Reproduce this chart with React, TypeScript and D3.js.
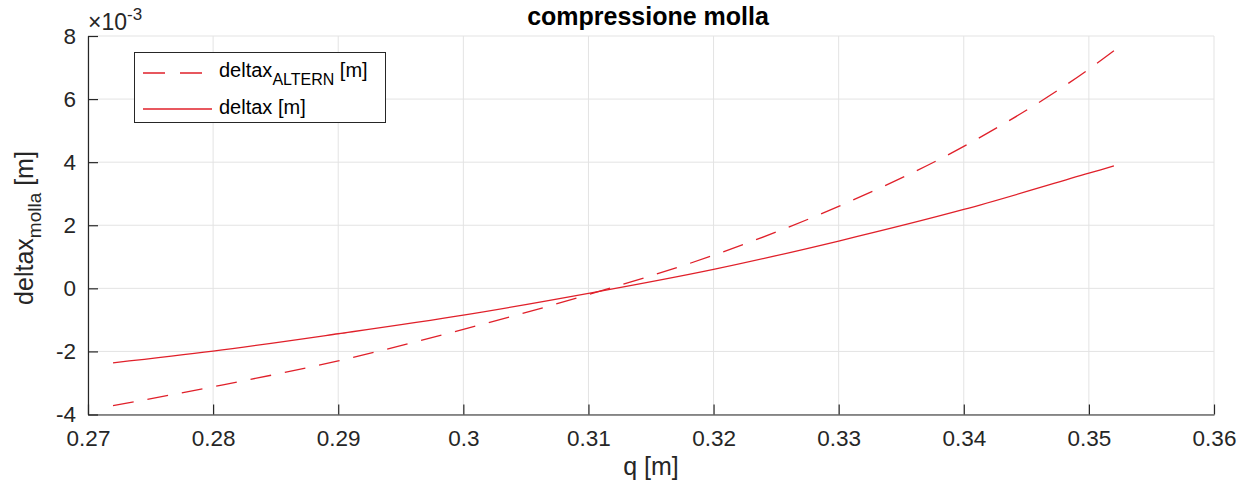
import * as d3 from 'd3';
import React, { ReactElement, useEffect, useRef } from 'react';

const W = 1240;
const H = 487;

// q [m]
const qValues = [0.272, 0.28, 0.29, 0.3, 0.31, 0.32, 0.33, 0.34, 0.35, 0.352];
// deltax [m] (x 1e-3)
const deltax = [-2.36, -1.99, -1.44, -0.85, -0.16, 0.6, 1.5, 2.5, 3.65, 3.88];
// deltax ALTERN [m] (x 1e-3)
const deltaxAltern = [-3.72, -3.12, -2.3, -1.3, -0.2, 1.05, 2.6, 4.5, 6.95, 7.53];

const xTicks = [0.27, 0.28, 0.29, 0.3, 0.31, 0.32, 0.33, 0.34, 0.35, 0.36];
const yTicks = [-4, -2, 0, 2, 4, 6, 8];

const RED = '#e0202a';
const AXIS = '#262626';
const GRID = '#e3e3e3';
const FONT = '"Liberation Sans", Arial, Helvetica, sans-serif';

const App = (): ReactElement => {
  const ref = useRef(null);

  const create = () => {
    const left = 88;
    const right = 1214;
    const top = 36;
    const bottom = 414.5;

    const x = d3.scaleLinear().domain([0.27, 0.36]).range([left, right]);
    const y = d3.scaleLinear().domain([-4, 8]).range([bottom, top]);

    const svg = d3
      .select(ref.current)
      .append('svg')
      .attr('width', W)
      .attr('height', H)
      .style('position', 'absolute')
      .style('left', 0)
      .style('top', 0)
      .style('font-family', FONT);

    svg.append('rect').attr('width', W).attr('height', H).attr('fill', '#fff');

    // grid
    svg
      .append('g')
      .selectAll('line')
      .data(xTicks)
      .enter()
      .append('line')
      .attr('x1', (d) => x(d))
      .attr('x2', (d) => x(d))
      .attr('y1', top)
      .attr('y2', bottom)
      .attr('stroke', GRID)
      .attr('stroke-width', 1);
    svg
      .append('g')
      .selectAll('line')
      .data(yTicks)
      .enter()
      .append('line')
      .attr('x1', left)
      .attr('x2', right)
      .attr('y1', (d) => y(d))
      .attr('y2', (d) => y(d))
      .attr('stroke', GRID)
      .attr('stroke-width', 1);

    // axes (left, bottom) with inward ticks
    const xAxis = d3
      .axisBottom(x)
      .tickValues(xTicks)
      .tickSizeInner(-10)
      .tickSizeOuter(0)
      .tickPadding(16)
      .tickFormat((d) => String(+d));
    const gx = svg.append('g').attr('transform', `translate(0,${bottom})`).call(xAxis);
    const yAxis = d3
      .axisLeft(y)
      .tickValues(yTicks)
      .tickSizeInner(-10)
      .tickSizeOuter(0)
      .tickPadding(12)
      .tickFormat((d) => String(d));
    const gy = svg.append('g').attr('transform', `translate(${left},0)`).call(yAxis);
    [gx, gy].forEach((g) => {
      g.select('.domain').attr('stroke', AXIS).attr('stroke-width', 1.2);
      g.selectAll('.tick line').attr('stroke', AXIS).attr('stroke-width', 1.2);
      g.selectAll('.tick text')
        .attr('fill', AXIS)
        .attr('font-size', 22.5)
        .attr('font-family', FONT);
    });

    // exponent
    const exp = svg
      .append('text')
      .attr('x', 88)
      .attr('y', 30)
      .attr('fill', AXIS)
      .attr('font-size', 23);
    exp.append('tspan').text('×10');
    exp.append('tspan').attr('dy', -10).attr('font-size', 17).text('-3');

    // lines
    const line = d3
      .line<number>()
      .x((_, i) => x(qValues[i]))
      .y((d) => y(d))
      .curve(d3.curveMonotoneX);

    svg
      .append('path')
      .attr('d', line(deltaxAltern))
      .attr('fill', 'none')
      .attr('stroke', RED)
      .attr('stroke-width', 1.3)
      .attr('stroke-dasharray', '21,14');
    svg
      .append('path')
      .attr('d', line(deltax))
      .attr('fill', 'none')
      .attr('stroke', RED)
      .attr('stroke-width', 1.3);

    // title
    svg
      .append('text')
      .attr('x', 648)
      .attr('y', 25)
      .attr('text-anchor', 'middle')
      .attr('font-weight', 'bold')
      .attr('font-size', 25)
      .attr('fill', '#000')
      .text('compressione molla');

    // x label
    svg
      .append('text')
      .attr('x', 651)
      .attr('y', 475)
      .attr('text-anchor', 'middle')
      .attr('font-size', 25)
      .attr('fill', AXIS)
      .text('q [m]');

    // y label
    const yl = svg
      .append('text')
      .attr('transform', 'translate(33,228) rotate(-90)')
      .attr('text-anchor', 'middle')
      .attr('font-size', 25)
      .attr('fill', AXIS);
    yl.append('tspan').text('deltax');
    yl.append('tspan').attr('dy', 8).attr('font-size', 19).text('molla');
    yl.append('tspan').attr('dy', -8).text(' [m]');

    // legend
    const lg = svg.append('g');
    lg.append('rect')
      .attr('x', 134.5)
      .attr('y', 52.5)
      .attr('width', 251)
      .attr('height', 70)
      .attr('fill', '#fff')
      .attr('stroke', AXIS)
      .attr('stroke-width', 1);
    lg.append('line')
      .attr('x1', 143)
      .attr('x2', 212)
      .attr('y1', 73)
      .attr('y2', 73)
      .attr('stroke', RED)
      .attr('stroke-width', 1.3)
      .attr('stroke-dasharray', '22,15');
    lg.append('line')
      .attr('x1', 143)
      .attr('x2', 212)
      .attr('y1', 109)
      .attr('y2', 109)
      .attr('stroke', RED)
      .attr('stroke-width', 1.3);
    const t1 = lg
      .append('text')
      .attr('x', 219)
      .attr('y', 77)
      .attr('font-size', 20)
      .attr('fill', '#000');
    t1.append('tspan').text('deltax');
    t1.append('tspan').attr('dy', 8).attr('font-size', 16).text('ALTERN');
    t1.append('tspan').attr('dy', -8).text(' [m]');
    lg.append('text')
      .attr('x', 219)
      .attr('y', 114)
      .attr('font-size', 20)
      .attr('fill', '#000')
      .text('deltax [m]');
  };

  const clear = () => {
    d3.select(ref.current).selectAll('svg').remove();
  };

  useEffect(() => {
    create();
    return () => {
      clear();
    };
  }, []);

  return <div ref={ref}></div>;
};

export default App;
